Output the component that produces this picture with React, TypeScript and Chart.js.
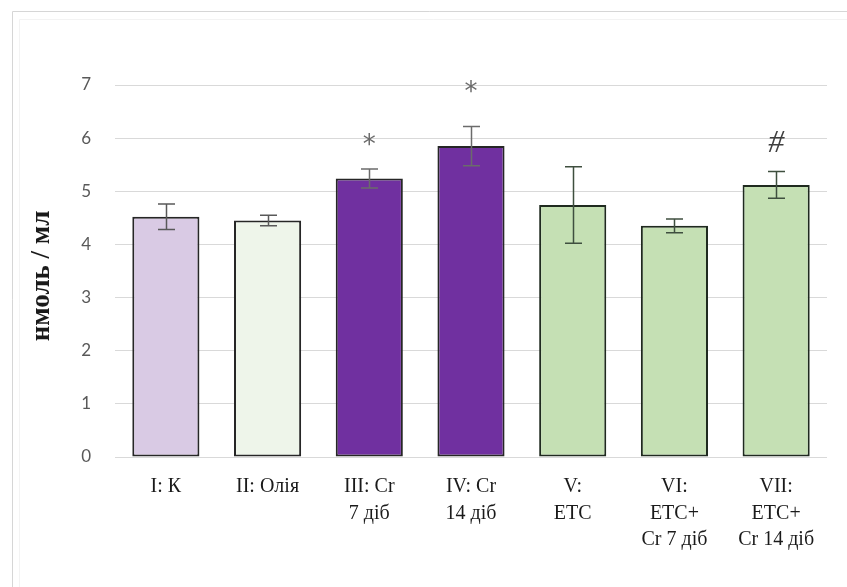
import React, { useEffect, useRef } from "react";
import { Chart, registerables } from "chart.js";

Chart.register(...registerables);

const categories: string[][] = [
  ["I: К"],
  ["II: Олія"],
  ["III: Cr", "7 діб"],
  ["IV: Cr", "14 діб"],
  ["V:", "ЕТС"],
  ["VI:", "ЕТС+", "Cr 7 діб"],
  ["VII:", "ЕТС+", "Cr 14 діб"],
];
const values = [4.52, 4.45, 5.24, 5.85, 4.74, 4.35, 5.12];
const errors = [0.24, 0.1, 0.18, 0.37, 0.72, 0.13, 0.25];
const markLabels = ["", "", "*", "*", "", "", "#"];
const markValues: (number | null)[] = [null, null, 5.97, 6.98, null, null, 5.93];
const fillColors = ["#D9CAE4", "#EEF5EA", "#7030A0", "#7030A0", "#C5E0B4", "#C5E0B4", "#C5E0B4"];
const borderColors = ["#262626", "#262626", "#262626", "#262626", "#1f2a1f", "#1f2a1f", "#1f2a1f"];
const errorColors = ["#595959", "#595959", "#6b6b6b", "#6b6b6b", "#3f4f3f", "#3f4f3f", "#3f4f3f"];
const yTitle = "нмоль / мл";
const yMin = 0;
const yMax = 7;
const yStep = 1;

const SERIF = "\"Liberation Serif\", \"Times New Roman\", serif";

const extras = {
  id: "extras",
  beforeDraw(chart: any) {
    const ctx = chart.ctx;
    ctx.save();
    ctx.fillStyle = "#ffffff";
    ctx.fillRect(0, 0, chart.width, chart.height);
    ctx.strokeStyle = "#d6d6d6";
    ctx.lineWidth = 1;
    ctx.beginPath();
    ctx.moveTo(12.5, chart.height);
    ctx.lineTo(12.5, 11.5);
    ctx.lineTo(chart.width, 11.5);
    ctx.stroke();
    ctx.strokeStyle = "#f3f3f3";
    ctx.beginPath();
    ctx.moveTo(19.5, chart.height);
    ctx.lineTo(19.5, 19.5);
    ctx.lineTo(chart.width, 19.5);
    ctx.stroke();
    ctx.restore();
  },
  afterDatasetsDraw(chart: any) {
    const ctx = chart.ctx;
    const yS = chart.scales.y;
    const meta = chart.getDatasetMeta(0);
    ctx.save();
    meta.data.forEach((bar: any, i: number) => {
      const x = Math.round(bar.x) + 0.5;
      const yt = yS.getPixelForValue(values[i] + errors[i]);
      const yb = yS.getPixelForValue(values[i] - errors[i]);
      ctx.strokeStyle = errorColors[i];
      ctx.lineWidth = 1.5;
      ctx.beginPath();
      ctx.moveTo(x, yt);
      ctx.lineTo(x, yb);
      ctx.moveTo(x - 8.5, yt);
      ctx.lineTo(x + 8.5, yt);
      ctx.moveTo(x - 8.5, yb);
      ctx.lineTo(x + 8.5, yb);
      ctx.stroke();
      const mv = markValues[i];
      if (mv !== null && markLabels[i]) {
        const t = markLabels[i];
        if (t === "#") {
          ctx.font = "italic 32px " + SERIF;
          ctx.fillStyle = "#404040";
        } else {
          ctx.font = "26px \"DejaVu Sans\"";
          ctx.fillStyle = "#6a6a6a";
        }
        ctx.textAlign = "center";
        ctx.textBaseline = "alphabetic";
        const m = ctx.measureText(t);
        const cy = yS.getPixelForValue(mv);
        ctx.fillText(t, bar.x, cy + (m.actualBoundingBoxAscent - m.actualBoundingBoxDescent) / 2);
      }
    });
    ctx.restore();
  },
  afterDraw(chart: any) {
    const ctx = chart.ctx;
    const a = chart.chartArea;
    ctx.save();
    ctx.translate(42, (a.top + a.bottom) / 2 + 5);
    ctx.rotate(-Math.PI / 2);
    ctx.font = "bold 27px " + SERIF;
    ctx.fillStyle = "#1a1a1a";
    ctx.textAlign = "center";
    ctx.textBaseline = "middle";
    ctx.fillText(yTitle, 0, 0);
    ctx.restore();
  },
};

export default function App() {
  const ref = useRef<HTMLCanvasElement>(null);
  useEffect(() => {
    if (!ref.current) return;
    const chart = new Chart(ref.current, {
      type: "bar",
      data: {
        labels: categories,
        datasets: [
          {
            data: values,
            backgroundColor: fillColors,
            borderColor: borderColors,
            borderWidth: 2,
            borderSkipped: false,
            categoryPercentage: 1,
            barPercentage: 0.66,
          },
        ],
      },
      options: {
        animation: false,
        responsive: false,
        devicePixelRatio: 1,
        layout: { padding: { top: 85, right: 20, left: 0, bottom: 0 } },
        plugins: { legend: { display: false }, tooltip: { enabled: false } },
        scales: {
          x: {
            grid: { display: false },
            border: { display: false },
            ticks: {
              color: "#1a1a1a",
              font: { family: SERIF, size: 20, lineHeight: 1.32 },
              padding: 9,
              maxRotation: 0,
              autoSkip: false,
            },
            afterFit(scale: any) {
              scale.height = 130;
            },
          },
          y: {
            min: yMin,
            max: yMax,
            grid: { color: "#d9d9d9", lineWidth: 1, drawTicks: false },
            border: { display: false },
            ticks: {
              stepSize: yStep,
              color: "#595959",
              font: { family: "Lato", size: 17 },
              padding: 24,
            },
            afterFit(scale: any) {
              scale.width = 115;
            },
          },
        },
      },
      plugins: [extras],
    });
    return () => chart.destroy();
  }, []);
  return (
    <div style={{ position: "absolute", left: 0, top: 0, width: 847, height: 587 }}>
      <canvas ref={ref} width={847} height={587} style={{ width: 847, height: 587 }} />
    </div>
  );
}
